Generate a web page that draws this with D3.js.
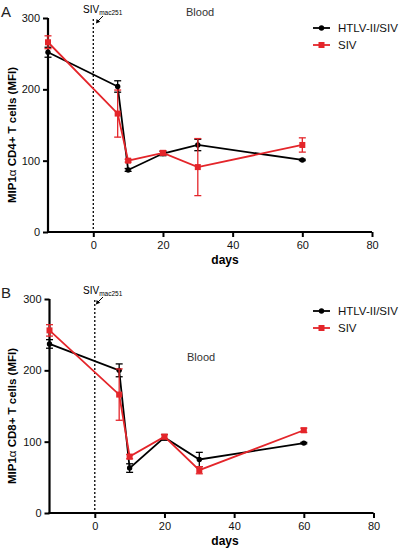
<!DOCTYPE html>
<html><head><meta charset="utf-8">
<script src="https://cdn.jsdelivr.net/npm/d3@7"></script>
<style>body{margin:0;background:#fff}svg{display:block}text{font-family:"Liberation Sans",Arial,sans-serif}</style>
</head><body>
<script>
const days = [-13, 7, 10, 20, 30, 60];
const xTicks = [0, 20, 40, 60, 80];
const yTicks = [0, 100, 200, 300];
const seriesNames = ["HTLV-II/SIV", "SIV"];
const cd4Htlv = [252, 204, 87, 110, 122, 101];
const cd4HtlvErr = [7, 8, 2, 3, 8, 1];
const cd4Siv = [266, 166, 100, 111, 91, 122];
const cd4SivErr = [9, 33, 2, 3, 40, 10];
const cd8Htlv = [237, 200, 63, 106, 75, 98];
const cd8HtlvErr = [6, 9, 6, 4, 10, 1];
const cd8Siv = [256, 166, 79, 107, 60, 116];
const cd8SivErr = [8, 36, 3, 3, 5, 3];
const panelLetters = ["A", "B"];
const yLabels = ["CD4+ T cells (MFI)", "CD8+ T cells (MFI)"];

const W = 400, H = 551;
const RED = "#e4252a";
const svg = d3.select("body").append("svg").attr("width", W).attr("height", H);

const panels = [
  {letter: panelLetters[0], ylab: yLabels[0], x0: 48, x1: 372, yTop: 18, yBot: 232,
   s: [{v: cd4Htlv, e: cd4HtlvErr}, {v: cd4Siv, e: cd4SivErr}],
   blood: [186, 16], legendY: 28},
  {letter: panelLetters[1], ylab: yLabels[1], x0: 49.5, x1: 373.5, yTop: 299, yBot: 513,
   s: [{v: cd8Htlv, e: cd8HtlvErr}, {v: cd8Siv, e: cd8SivErr}],
   blood: [187, 361], legendY: 311}
];

panels.forEach(p => {
  const g = svg.append("g");
  const x = d3.scaleLinear().domain([-13, 80]).range([p.x0, p.x1]);
  const y = d3.scaleLinear().domain([0, 300]).range([p.yBot, p.yTop]);

  g.append("line").attr("x1", x(0)).attr("x2", x(0)).attr("y1", y(300) + 1).attr("y2", y(0))
    .attr("stroke", "#000").attr("stroke-width", 1.3).attr("stroke-dasharray", "2,2");

  const xa = g.append("g").attr("transform", `translate(0,${p.yBot})`)
    .call(d3.axisBottom(x).tickValues(xTicks).tickSize(5).tickPadding(4).tickSizeOuter(0));
  const ya = g.append("g").attr("transform", `translate(${p.x0},0)`)
    .call(d3.axisLeft(y).tickValues(yTicks).tickSize(5).tickPadding(3).tickSizeOuter(0));
  [xa, ya].forEach(a => {
    a.select(".domain").attr("stroke", "#000").attr("stroke-width", 2.2);
    a.selectAll(".tick line").attr("stroke", "#000").attr("stroke-width", 2);
    a.selectAll(".tick text").attr("font-size", 11).attr("fill", "#111")
      .style("font-family", '"Liberation Sans",Arial,sans-serif');
  });
  xa.select(".domain").attr("d", `M${p.x0 - 1},0H${p.x1}`);
  ya.select(".domain").attr("d", `M0,${p.yTop}V${p.yBot + 1}`);

  const colors = ["#000", RED];
  p.s.forEach((s, si) => {
    const c = colors[si];
    const pts = days.map((d, i) => ({d, v: s.v[i], e: s.e[i]}));
    g.append("path").datum(pts)
      .attr("d", d3.line().x(q => x(q.d)).y(q => y(q.v)))
      .attr("fill", "none").attr("stroke", c).attr("stroke-width", 1.8);
    const eb = g.append("g").attr("stroke", c).attr("stroke-width", 1.3);
    pts.forEach(q => {
      const cx = x(q.d);
      eb.append("line").attr("x1", cx).attr("x2", cx).attr("y1", y(q.v + q.e)).attr("y2", y(q.v - q.e));
      [q.v + q.e, q.v - q.e].forEach(val => {
        eb.append("line").attr("x1", cx - 3.5).attr("x2", cx + 3.5).attr("y1", y(val)).attr("y2", y(val));
      });
    });
    if (si === 0) {
      g.append("g").selectAll("circle").data(pts).join("circle")
        .attr("cx", q => x(q.d)).attr("cy", q => y(q.v)).attr("r", 2.7).attr("fill", c);
    } else {
      g.append("g").selectAll("rect").data(pts).join("rect")
        .attr("x", q => x(q.d) - 3).attr("y", q => y(q.v) - 3).attr("width", 6).attr("height", 6).attr("fill", c);
    }
    const ly = p.legendY + si * 17;
    g.append("line").attr("x1", 313).attr("x2", 330).attr("y1", ly).attr("y2", ly)
      .attr("stroke", c).attr("stroke-width", 1.8);
    if (si === 0) g.append("circle").attr("cx", 321.5).attr("cy", ly).attr("r", 2.7).attr("fill", c);
    else g.append("rect").attr("x", 318.5).attr("y", ly - 3).attr("width", 6).attr("height", 6).attr("fill", c);
    g.append("text").attr("x", 338).attr("y", ly + 4).attr("font-size", 11.5).attr("fill", "#111").text(seriesNames[si]);
  });

  g.append("text").attr("x", 1).attr("y", p.yTop - 1).attr("font-size", 15).attr("fill", "#222").text(p.letter);

  const ymid = (p.yTop + p.yBot) / 2 + 10;
  const yl = g.append("text").attr("transform", `translate(16,${ymid}) rotate(-90)`)
    .attr("text-anchor", "middle").attr("font-size", 11.5).attr("font-weight", "bold").attr("fill", "#000");
  yl.append("tspan").text("MIP1");
  yl.append("tspan").attr("font-weight", "normal").text("α");
  yl.append("tspan").text(" " + p.ylab);

  g.append("text").attr("x", 225).attr("y", p.yBot + 32).attr("text-anchor", "middle")
    .attr("font-size", 12).attr("font-weight", "bold").attr("fill", "#000").text("days");

  const at = g.append("text").attr("x", 83).attr("y", p.yTop - 5).attr("font-size", 10).attr("fill", "#000");
  at.append("tspan").text("SIV");
  at.append("tspan").attr("font-size", 6.5).attr("dy", 1.5).text("mac251");
  g.append("line").attr("x1", 103).attr("y1", p.yTop - 2).attr("x2", 97.5).attr("y2", p.yTop + 3.5)
    .attr("stroke", "#000").attr("stroke-width", 1);
  g.append("path").attr("d", `M96,${p.yTop + 5.5}L96.6,${p.yTop + 1}L100.3,${p.yTop + 3.8}Z`).attr("fill", "#000");

  g.append("text").attr("x", p.blood[0]).attr("y", p.blood[1]).attr("font-size", 11).attr("fill", "#333").text("Blood");
});
</script>
</body></html>
